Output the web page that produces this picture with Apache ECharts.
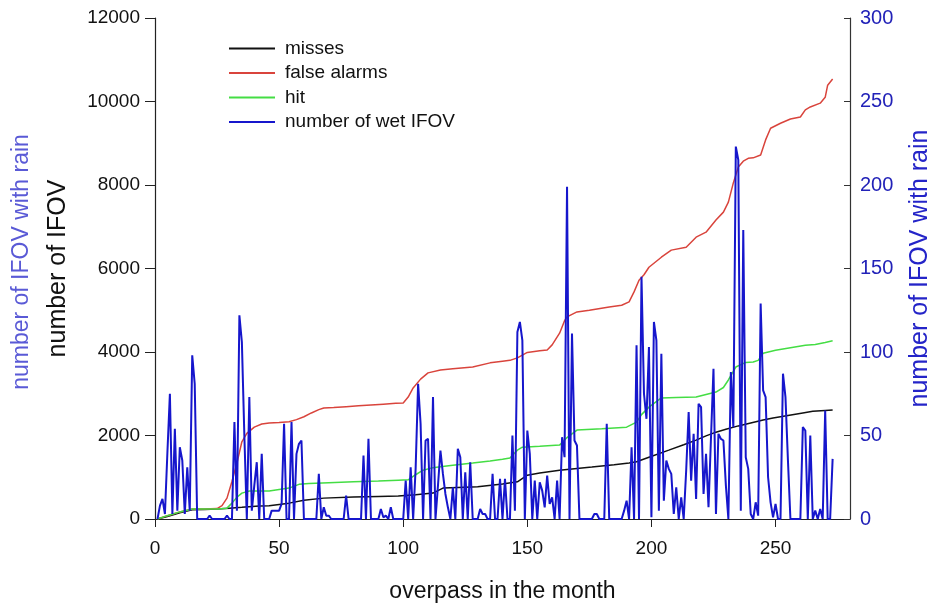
<!DOCTYPE html>
<html>
<head>
<meta charset="utf-8">
<script src="https://cdn.jsdelivr.net/npm/echarts@6/dist/echarts.min.js"></script>
<style>
html,body{margin:0;padding:0;background:#fff;}
#chart{width:933px;height:612px;}
</style>
</head>
<body>
<div id="chart"></div>
<script>
// ---- data ----
var seriesNames = ['misses', 'false alarms', 'hit', 'number of wet IFOV'];

// cumulative counts: [overpass, value]
var missesPts = [[1,0],[5,60],[10,150],[15,220],[20,230],[25,240],[30,260],[35,280],[42,310],[46,315],[54,380],[60,450],[68,500],[80,527],[90,540],[98,550],[105,580],[112,620],[116,740],[125,760],[130,770],[140,840],[146,890],[150,1050],[155,1100],[163,1170],[170,1210],[176,1245],[185,1300],[191,1340],[194,1370],[199,1480],[207,1650],[213,1780],[218,1890],[222,1990],[226,2080],[230,2150],[235,2230],[240,2300],[245,2370],[249,2420],[255,2480],[261,2540],[265,2580],[270,2600],[273,2610]];

var falseAlarmPts = [[1,0],[5,80],[10,170],[15,240],[20,240],[25,250],[27,320],[29,500],[31,900],[33,1340],[35,1850],[37,2050],[40,2200],[43,2275],[46,2300],[50,2310],[54,2330],[57,2380],[60,2450],[63,2540],[66,2620],[68,2660],[72,2670],[77,2690],[82,2710],[87,2730],[92,2750],[97,2770],[100,2780],[102,2920],[104,3140],[107,3350],[110,3500],[115,3570],[120,3600],[128,3640],[135,3740],[140,3780],[143,3800],[146,3860],[150,3990],[155,4030],[158,4050],[160,4170],[163,4450],[165,4750],[166,4840],[170,4960],[175,5000],[183,5080],[188,5120],[191,5200],[193,5440],[195,5720],[197,5850],[199,6030],[204,6270],[208,6440],[214,6510],[218,6750],[222,6870],[226,7160],[229,7350],[231,7590],[233,8050],[235,8430],[237,8570],[239,8640],[241,8650],[244,8720],[246,9080],[248,9360],[252,9480],[256,9580],[260,9630],[262,9800],[264,9870],[268,9960],[270,10100],[271,10390],[273,10540]];

var hitPts = [[1,0],[5,80],[10,170],[15,240],[20,240],[25,240],[29,260],[31,380],[33,520],[35,620],[38,670],[46,670],[54,740],[58,830],[62,850],[70,870],[80,890],[90,910],[98,930],[102,940],[105,1060],[108,1170],[112,1230],[115,1250],[120,1290],[128,1340],[135,1390],[140,1430],[143,1460],[146,1650],[148,1720],[155,1740],[163,1770],[166,1950],[170,2130],[180,2160],[190,2200],[194,2320],[196,2500],[199,2680],[204,2900],[210,2910],[218,2920],[222,2980],[226,3040],[229,3150],[231,3330],[234,3640],[238,3750],[241,3760],[243,3800],[245,3970],[250,4040],[256,4100],[262,4160],[266,4180],[270,4230],[273,4270]];

// number of wet IFOV per overpass (overpass 1..273)
var wetIFOV = [
 0,8,12,3,40,75,3,54,5,43,
 35,3,31,5,98,81,0,0,0,0,
 0,2,0,0,0,0,0,0,2,0,
 0,58,5,122,106,50,0,73,5,20,
 34,0,39,0,0,0,5,5,5,5,
 9,57,0,0,58,0,39,45,47,0,
 0,0,0,0,0,27,0,7,2,2,
 0,0,0,0,0,0,14,0,0,0,
 0,0,0,38,0,48,0,0,0,0,
 6,1,2,0,7,0,0,0,0,0,
 23,0,31,0,30,81,57,0,47,48,
 0,73,0,20,41,27,15,7,0,19,
 0,42,37,0,28,0,34,0,0,0,
 6,3,3,0,0,27,0,0,24,0,
 24,0,0,50,5,112,118,107,0,53,
 39,0,23,0,22,17,7,26,9,13,
 0,23,0,49,37,199,0,111,47,44,
 0,0,0,0,0,0,3,3,0,0,
 0,57,0,0,0,0,0,0,5,11,
 0,43,0,104,0,145,75,60,103,1,
 118,107,5,99,11,35,30,27,3,19,
 0,13,0,29,64,23,51,12,69,67,
 15,39,7,49,90,3,51,48,47,20,
 0,88,55,223,215,5,173,37,30,3,
 0,10,2,129,77,73,25,10,1,9,
 0,0,87,73,35,0,0,0,0,0,
 55,53,0,50,0,5,0,6,0,65,
 0,0,36
];

var xTicks = [0, 50, 100, 150, 200, 250];
var leftTicks = [0, 2000, 4000, 6000, 8000, 10000, 12000];
var rightTicks = [0, 50, 100, 150, 200, 250, 300];

// ---- chart ----
var FONT = '"Liberation Sans", Arial, Helvetica, sans-serif';
var wetPts = wetIFOV.map(function (v, i) { return [i + 1, v]; });
var plain = function (v) { return String(v); };

var chart = echarts.init(document.getElementById('chart'), null, {renderer: 'canvas'});
chart.setOption({
  animation: false,
  backgroundColor: '#ffffff',
  grid: {left: 155, right: 83, top: 18, bottom: 93, containLabel: false, outerBoundsMode: 'none'},
  legend: {
    orient: 'vertical', left: 224, top: 34,
    icon: 'rect', itemWidth: 46, itemHeight: 2, itemGap: 5.5,
    textStyle: {fontFamily: FONT, fontSize: 19, color: '#111', padding: [0, 0, 0, 5], lineHeight: 19},
    data: seriesNames
  },
  graphic: [{
    type: 'text', x: 22, y: 262, rotation: Math.PI / 2,
    style: {text: 'number of IFOV with rain', fill: '#5a5ad6',
      font: '23px ' + FONT, textAlign: 'center', textVerticalAlign: 'middle'}
  }],
  xAxis: {
    type: 'value', min: xTicks[0], max: 280, interval: xTicks[1] - xTicks[0],
    name: 'overpass in the month', nameLocation: 'middle', nameGap: 61,
    nameTextStyle: {fontFamily: FONT, fontSize: 23, color: '#111'},
    axisLine: {lineStyle: {color: '#222', width: 1.2}},
    axisTick: {show: true, inside: false, length: 8, lineStyle: {color: '#222'}},
    axisLabel: {fontFamily: FONT, fontSize: 19, color: '#111', margin: 20, showMaxLabel: false, formatter: plain},
    splitLine: {show: false}
  },
  yAxis: [{
    type: 'value', position: 'left', min: leftTicks[0], max: leftTicks[leftTicks.length - 1],
    interval: leftTicks[1] - leftTicks[0],
    name: 'number of IFOV', nameLocation: 'middle', nameGap: 84,
    nameTextStyle: {fontFamily: FONT, fontSize: 25, color: '#111'},
    axisLine: {show: true, lineStyle: {color: '#222', width: 1.2}},
    axisTick: {show: true, inside: false, length: 10, lineStyle: {color: '#222'}},
    axisLabel: {fontFamily: FONT, fontSize: 19, color: '#111', margin: 15, formatter: plain},
    splitLine: {show: false}
  }, {
    type: 'value', position: 'right', min: rightTicks[0], max: rightTicks[rightTicks.length - 1],
    interval: rightTicks[1] - rightTicks[0],
    name: 'number of IFOV with rain', nameLocation: 'middle', nameGap: 58,
    nameTextStyle: {fontFamily: FONT, fontSize: 25, color: '#2424c8'},
    axisLine: {show: true, lineStyle: {color: '#333', width: 1.2}},
    axisTick: {show: true, inside: true, length: 6, lineStyle: {color: '#333'}},
    axisLabel: {fontFamily: FONT, fontSize: 20, color: '#2222b8', margin: 10, formatter: plain},
    splitLine: {show: false}
  }],
  series: [{
    name: seriesNames[0], type: 'line', yAxisIndex: 0, data: missesPts,
    symbol: 'none', lineStyle: {color: '#111111', width: 1.5}, itemStyle: {color: '#111111'}
  }, {
    name: seriesNames[1], type: 'line', yAxisIndex: 0, data: falseAlarmPts,
    symbol: 'none', lineStyle: {color: '#d9443c', width: 1.5}, itemStyle: {color: '#d9443c'}
  }, {
    name: seriesNames[2], type: 'line', yAxisIndex: 0, data: hitPts,
    symbol: 'none', lineStyle: {color: '#44dd44', width: 1.5}, itemStyle: {color: '#44dd44'}
  }, {
    name: seriesNames[3], type: 'line', yAxisIndex: 1, data: wetPts,
    symbol: 'none', lineStyle: {color: '#1616cc', width: 2}, itemStyle: {color: '#1616cc'}
  }]
});
</script>
</body>
</html>
